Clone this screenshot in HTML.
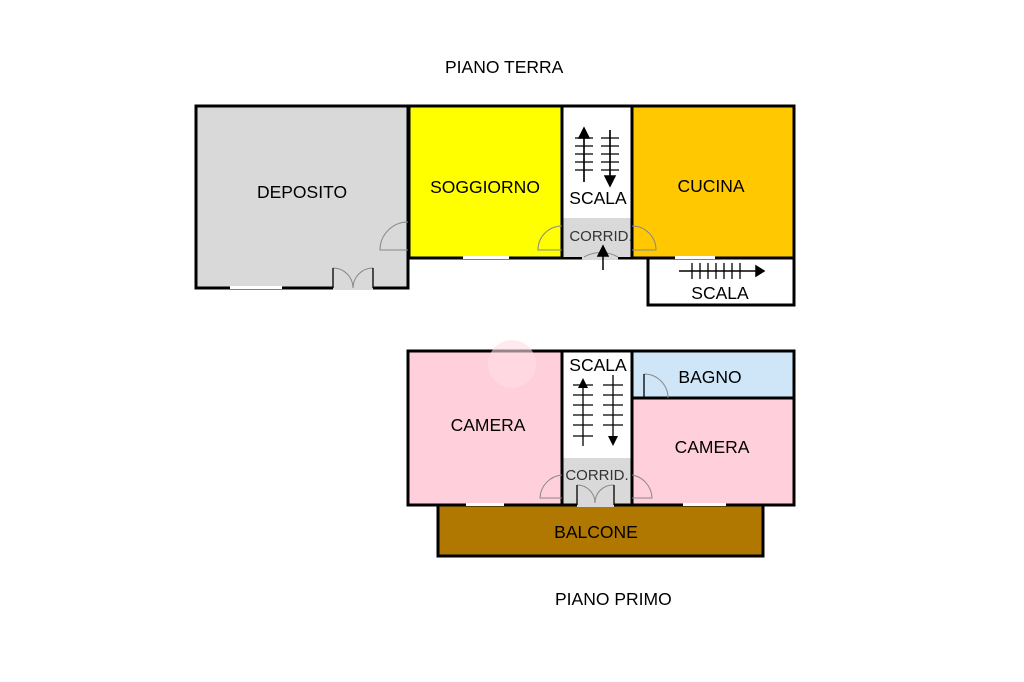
<!DOCTYPE html>
<html><head><meta charset="utf-8"><style>
html,body{margin:0;padding:0;background:#fff;}
svg{display:block;font-family:"Liberation Sans",Arial,sans-serif;}
</style></head><body>
<svg width="1024" height="682" viewBox="0 0 1024 682">
<text x="445" y="73" font-size="17.5">PIANO TERRA</text>
<text x="555" y="605" font-size="17.5">PIANO PRIMO</text>

<!-- Piano terra -->
<rect x="196" y="106" width="212" height="182" fill="#d9d9d9" stroke="#000" stroke-width="3"/>
<rect x="409" y="106" width="153" height="152" fill="#ffff00" stroke="#000" stroke-width="3"/>
<rect x="562" y="106" width="70" height="152" fill="#fff" stroke="#000" stroke-width="3"/>
<rect x="563.5" y="218" width="67" height="39" fill="#d9d9d9"/>
<rect x="632" y="106" width="162" height="152" fill="#ffc800" stroke="#000" stroke-width="3"/>
<rect x="648" y="258" width="146" height="47" fill="#fff" stroke="#000" stroke-width="3"/>
<rect x="582" y="256" width="36" height="4" fill="#d9d9d9"/>
<rect x="333" y="286" width="40" height="4" fill="#d9d9d9"/>
<rect x="230" y="286" width="52" height="3" fill="#fff"/>
<rect x="463" y="256" width="46" height="3" fill="#fff"/>
<rect x="675" y="256" width="40" height="3" fill="#fff"/>
<g fill="none" stroke="#888" stroke-width="1">
<path d="M408,222 A28,28 0 0 0 380,250 L408,250"/>
<path d="M562,226 A24,24 0 0 0 538,250 L562,250"/>
<path d="M632,226 A24,24 0 0 1 656,250 L632,250"/>
<path d="M618,257 A34,34 0 0 0 584,257"/>
<path d="M333,268 A20,20 0 0 1 353,288 M373,268 A20,20 0 0 0 353,288"/>
</g>
<g stroke="#000" stroke-width="1.3" fill="none">
<line x1="333" y1="268" x2="333" y2="288"/><line x1="373" y1="268" x2="373" y2="288"/>
<line x1="584" y1="130" x2="584" y2="182"/>
<line x1="610" y1="130" x2="610" y2="182"/>
<path d="M575,138h18M575,146h18M575,154h18M575,162h18M575,170h18M601,138h18M601,146h18M601,154h18M601,162h18M601,170h18"/>
<path d="M692,263V279M700,263V279M708,263V279M716,263V279M724,263V279M732,263V279M740,263V279"/>
</g>
<path d="M584,182 V130 M579,138 L584,128 L589,138z" fill="#000" stroke="#000" stroke-width="1.5"/>
<path d="M610,130 V182 M605,176 L610,186 L615,176z" fill="#000" stroke="#000" stroke-width="1.5"/>
<path d="M603,270 V250 M598,256 L603,246 L608,256z" fill="#000" stroke="#000" stroke-width="1.5"/>
<path d="M679,271 H760 M756,266 L764,271 L756,276z" fill="#000" stroke="#000" stroke-width="1.5"/>
<text x="302" y="198" font-size="17.5" text-anchor="middle">DEPOSITO</text>
<text x="485" y="193" font-size="17.5" text-anchor="middle">SOGGIORNO</text>
<text x="598" y="204" font-size="17.5" text-anchor="middle">SCALA</text>
<text x="601" y="241" font-size="15" text-anchor="middle" fill="#333">CORRID.</text>
<text x="711" y="192" font-size="17.5" text-anchor="middle">CUCINA</text>
<text x="720" y="299" font-size="17.5" text-anchor="middle">SCALA</text>

<!-- Piano primo -->
<rect x="408" y="351" width="154" height="154" fill="#ffd0dc" stroke="#000" stroke-width="3"/>
<rect x="562" y="351" width="70" height="154" fill="#fff" stroke="#000" stroke-width="3"/>
<rect x="563.5" y="458" width="67" height="45.5" fill="#d9d9d9"/>
<rect x="632" y="351" width="162" height="47" fill="#cfe6f8" stroke="#000" stroke-width="3"/>
<rect x="632" y="398" width="162" height="107" fill="#ffd0dc" stroke="#000" stroke-width="3"/>
<rect x="438" y="505" width="325" height="51" fill="#b07800" stroke="#000" stroke-width="3"/>
<circle cx="512" cy="364" r="24" fill="#ffdde5" opacity="0.6"/>
<rect x="577" y="503" width="37" height="4" fill="#d9d9d9"/>
<rect x="466" y="503" width="38" height="3" fill="#fff"/>
<rect x="683" y="503" width="43" height="3" fill="#fff"/>
<g fill="none" stroke="#888" stroke-width="1">
<path d="M562,475 A24,24 0 0 0 540,498 L562,498"/>
<path d="M632,475 A24,24 0 0 1 652,498 L632,498"/>
<path d="M577,485 A18,18 0 0 1 595,503 M614,485 A18,18 0 0 0 595,503"/>
<path d="M644,374 A24,24 0 0 1 668,398"/>
</g>
<g stroke="#000" stroke-width="1.3" fill="none">
<line x1="577" y1="485" x2="577" y2="505"/><line x1="614" y1="485" x2="614" y2="505"/>
<line x1="644" y1="374" x2="644" y2="398"/>
<line x1="583" y1="385" x2="583" y2="446"/>
<line x1="613" y1="375" x2="613" y2="440"/>
<path d="M573,385h20M573,395h20M573,405h20M573,415h20M573,425h20M573,436h20M603,385h20M603,395h20M603,405h20M603,415h20M603,425h20"/>
</g>
<path d="M578,388 L583,378 L588,388z" fill="#000"/>
<path d="M608,436 L613,446 L618,436z" fill="#000"/>
<text x="598" y="371" font-size="17.5" text-anchor="middle">SCALA</text>
<text x="488" y="431" font-size="17.5" text-anchor="middle">CAMERA</text>
<text x="710" y="383" font-size="17.5" text-anchor="middle">BAGNO</text>
<text x="712" y="453" font-size="17.5" text-anchor="middle">CAMERA</text>
<text x="597" y="480" font-size="15" text-anchor="middle" fill="#333">CORRID.</text>
<text x="596" y="538" font-size="17.5" text-anchor="middle">BALCONE</text>
</svg>
</body></html>
